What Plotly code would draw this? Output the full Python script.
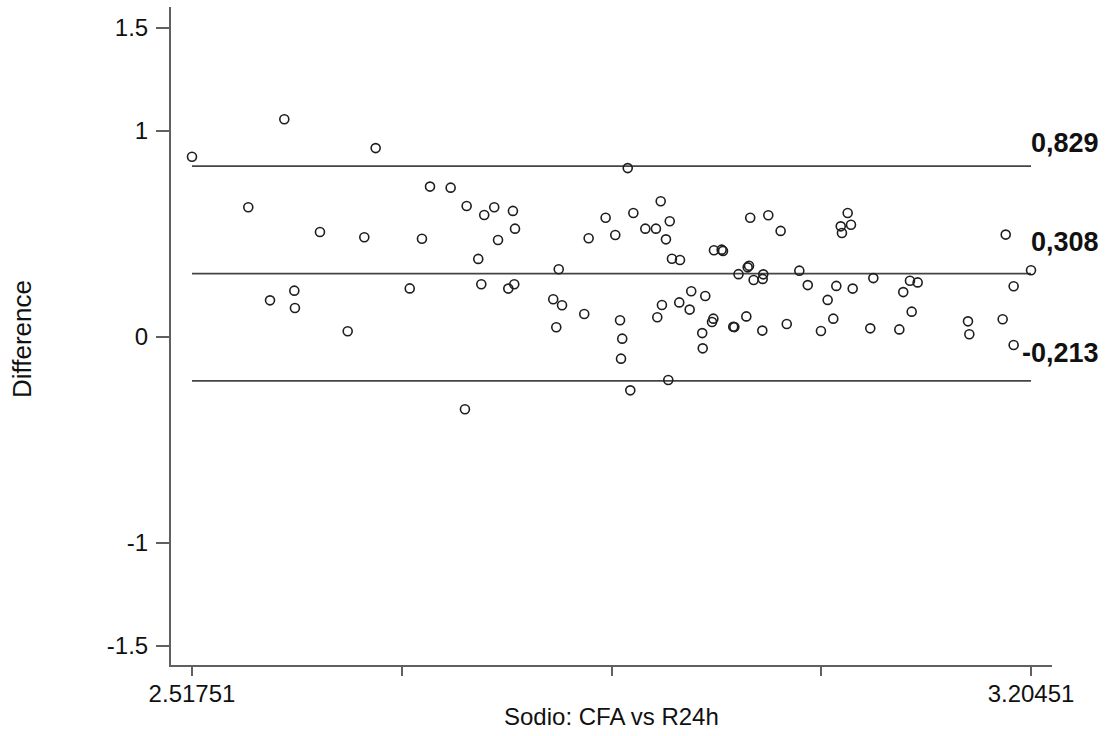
import numpy as np
import plotly.graph_objects as go

# Mean of the two methods (x) and their difference (y)
mean_vals = [
    2.51751, 2.5931, 2.6679, 2.7124, 2.7293, 2.5636, 2.6223, 2.6586, 2.7058, 2.6013,
    2.5814, 2.6018, 2.6450, 2.6958,
    2.8743, 2.7424, 2.7568, 2.7650, 2.7803, 2.7820, 2.7681, 2.7519, 2.7544, 2.7765,
    2.7814, 2.8178, 2.8133, 2.8205, 2.8158, 2.8387, 2.8423, 2.8562, 2.8641, 2.8789,
    2.8887, 2.8974, 2.9013, 2.9087, 2.9056, 2.9105, 2.9171, 2.9449, 2.9512, 2.9523,
    2.9650, 2.8680, 2.8698, 2.8688, 2.8764, 2.9075, 2.7410, 2.8985, 2.9023, 2.9165,
    2.9263, 2.9250, 2.9378, 2.9444, 2.9433, 2.9353, 2.9357, 2.9607, 2.9616,
    2.9746, 2.9894, 2.9995, 3.0544, 3.0487, 3.0497, 3.0571, 2.9736, 2.9725, 2.9774,
    2.9853, 2.9848, 3.0148, 3.0217, 3.0451, 3.0585, 3.0380, 3.0754, 3.1054, 3.1117,
    3.0999, 3.1068, 3.1838, 3.20451, 3.1903, 2.9714, 2.9845, 3.0045, 3.0325, 3.0426,
    3.0729, 3.0967, 3.1529, 3.1540, 3.1813, 3.1903,
]
diff_vals = [
    0.875, 1.057, 0.917, 0.730, 0.725, 0.630, 0.510, 0.484, 0.477, 0.225,
    0.178, 0.141, 0.028, 0.236,
    0.820, 0.636, 0.592, 0.630, 0.612, 0.526, 0.471, 0.379, 0.256, 0.235,
    0.256, 0.329, 0.183, 0.154, 0.047, 0.112, 0.479, 0.579, 0.495, 0.602,
    0.526, 0.526, 0.659, 0.562, 0.474, 0.380, 0.374, 0.421, 0.424, 0.418,
    0.305, 0.081, -0.008, -0.105, -0.259, -0.209, -0.351, 0.096, 0.155, 0.168,
    0.222, 0.133, 0.199, 0.089, 0.073, 0.019, -0.055, 0.050, 0.048,
    0.579, 0.591, 0.515, 0.602, 0.537, 0.505, 0.545, 0.346, 0.338, 0.277,
    0.304, 0.282, 0.322, 0.252, 0.248, 0.235, 0.180, 0.286, 0.273, 0.265,
    0.218, 0.123, 0.497, 0.324, 0.246, 0.100, 0.031, 0.063, 0.029, 0.089,
    0.042, 0.037, 0.076, 0.013, 0.086, -0.039,
]

# Upper limit of agreement, mean difference, lower limit of agreement
limit_vals = [0.829, 0.308, -0.213]
label_shift = [23, 32, 28]

y_tick_vals = [1.5, 1, 0, -1, -1.5]
y_tick_text = ["1.5", "1", "0", "-1", "-1.5"]
x_tick_text = ["2.51751", "", "", "", "3.20451"]

x_lo, x_hi = min(mean_vals), max(mean_vals)
x_tick_vals = list(np.linspace(x_lo, x_hi, len(x_tick_text)))

LINE = "#454545"
AXIS = "#606060"
TEXT = "#111111"
FONT = "Liberation Sans, Arial, sans-serif"

fig = go.Figure()

for v in limit_vals:
    fig.add_trace(go.Scatter(
        x=[x_lo, x_hi], y=[v, v], mode="lines",
        line=dict(color=LINE, width=1.8), hoverinfo="skip", showlegend=False,
    ))

fig.add_trace(go.Scatter(
    x=mean_vals, y=diff_vals, mode="markers",
    marker=dict(symbol="circle-open", size=9, color="#1e1e1e", line=dict(width=1.6)),
    showlegend=False, cliponaxis=False,
))

for v, s in zip(limit_vals, label_shift):
    fig.add_annotation(
        xref="paper", x=1.0556, yref="y", y=v, yshift=s,
        text=f"<b>{v:.3f}</b>".replace(".", ","), showarrow=False,
        xanchor="right", yanchor="middle",
        font=dict(family=FONT, size=27, color=TEXT),
    )

# Axis titles
fig.add_annotation(
    xref="paper", yref="paper", x=0.5, y=-0.079, text="Sodio: CFA vs R24h",
    showarrow=False, xanchor="center", yanchor="middle",
    font=dict(family=FONT, size=24, color=TEXT),
)
fig.add_annotation(
    xref="paper", yref="paper", x=-0.1691, y=0.4954, text="Difference",
    textangle=-90, showarrow=False, xanchor="center", yanchor="middle",
    font=dict(family=FONT, size=26, color=TEXT),
)

fig.update_layout(
    width=1109, height=736,
    margin=dict(l=171, r=57, t=7, b=71),
    paper_bgcolor="white", plot_bgcolor="white",
    font=dict(family=FONT, color=TEXT),
    xaxis=dict(
        range=[2.50032, 3.22170], showgrid=False, zeroline=False, automargin=False,
        showline=True, linecolor=AXIS, linewidth=2,
        ticks="outside", ticklen=9, tickwidth=1.5, tickcolor=AXIS,
        tickvals=x_tick_vals, ticktext=x_tick_text, ticklabelstandoff=-3,
        tickfont=dict(family=FONT, size=24, color=TEXT),
    ),
    yaxis=dict(
        range=[-1.5922, 1.6019], showgrid=False, zeroline=False, automargin=False,
        showline=True, linecolor=AXIS, linewidth=2,
        ticks="outside", ticklen=13, tickwidth=1.5, tickcolor=AXIS,
        tickvals=y_tick_vals, ticktext=y_tick_text, ticklabelstandoff=3,
        tickfont=dict(family=FONT, size=24, color=TEXT),
    ),
)

fig.write_html("out.html")
